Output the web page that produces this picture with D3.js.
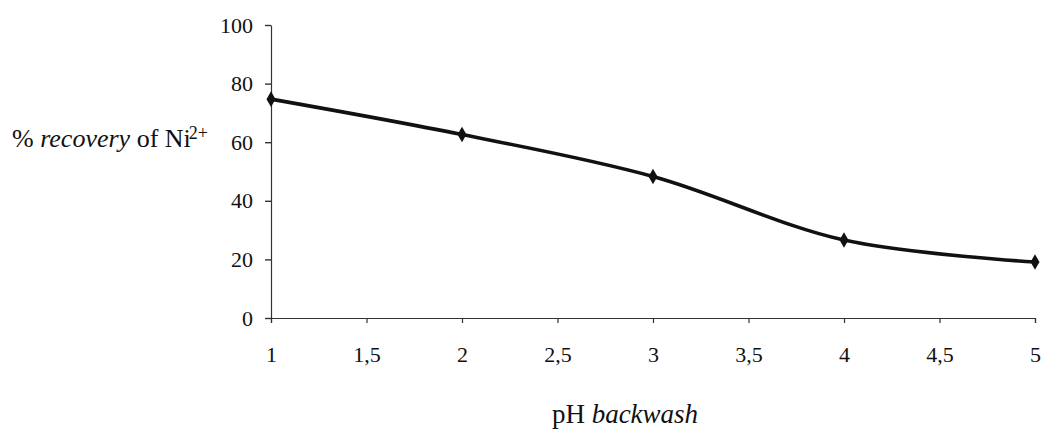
<!DOCTYPE html>
<html>
<head>
<meta charset="utf-8">
<script src="https://cdn.jsdelivr.net/npm/d3@7"></script>
<style>
  body { margin: 0; background: #fff; }
  text { font-family: "Liberation Serif", "Times New Roman", serif; fill: #111; }
</style>
</head>
<body>
<svg id="chart"></svg>
<script>
const svgWidth = 1042, svgHeight = 431;

// data
const phValues = [1, 2, 3, 4, 5];
const recovery = [74.7, 62.6, 48.3, 26.6, 19.1];
const xTicks = [1, 1.5, 2, 2.5, 3, 3.5, 4, 4.5, 5];
const yTicks = [0, 20, 40, 60, 80, 100];

const chart = d3.select("#chart")
    .attr("width", svgWidth)
    .attr("height", svgHeight);

const xScale = d3.scaleLinear().domain([1, 5]).range([271, 1035]);
const yScale = d3.scaleLinear().domain([0, 100]).range([318, 25]);

// x axis
const xAxis = d3.axisBottom(xScale)
    .tickValues(xTicks)
    .tickSize(5)
    .tickFormat(d => String(d).replace(".", ","));

const gx = chart.append("g")
    .attr("transform", "translate(0," + yScale(0) + ")")
    .call(xAxis);
gx.select(".domain").attr("stroke", "#333").attr("stroke-width", 1.2);
gx.selectAll(".tick line").attr("stroke", "#333").attr("stroke-width", 1.2);
gx.selectAll(".tick text")
    .attr("y", 28)
    .attr("font-size", 22)
    .attr("font-family", "Liberation Serif, serif");

// y axis
const yAxis = d3.axisLeft(yScale)
    .tickValues(yTicks)
    .tickSize(6)
    .tickSizeOuter(0);

const gy = chart.append("g")
    .attr("transform", "translate(" + xScale(1) + ",0)")
    .call(yAxis);
gy.select(".domain").attr("stroke", "#333").attr("stroke-width", 1.2);
gy.selectAll(".tick line").attr("stroke", "#333").attr("stroke-width", 1.4);
gy.selectAll(".tick text")
    .attr("x", -18)
    .attr("font-size", 22)
    .attr("font-family", "Liberation Serif, serif");

// axis titles
const yTitle = chart.append("text")
    .attr("x", 12)
    .attr("y", 147)
    .attr("font-size", 26);
yTitle.append("tspan").text("% ");
yTitle.append("tspan").attr("font-style", "italic").text("recovery");
yTitle.append("tspan").text(" of Ni");
yTitle.append("tspan").attr("font-size", 18).attr("dy", -8).attr("dx", -2).text("2+");

const xTitle = chart.append("text")
    .attr("x", 625)
    .attr("y", 423)
    .attr("text-anchor", "middle")
    .attr("font-size", 27);
xTitle.append("tspan").text("pH ");
xTitle.append("tspan").attr("font-style", "italic").text("backwash");

// line
const data = phValues.map((p, i) => ({ph: p, value: recovery[i]}));

const valueline = d3.line()
    .x(d => xScale(d.ph))
    .y(d => yScale(d.value))
    .curve(d3.curveCatmullRom);

chart.append("path")
    .datum(data)
    .attr("d", valueline)
    .attr("fill", "none")
    .attr("stroke", "#111")
    .attr("stroke-width", 3.6);

// diamond markers
chart.append("g").selectAll("path")
    .data(data)
    .enter()
    .append("path")
    .attr("transform", d => "translate(" + xScale(d.ph) + "," + yScale(d.value) + ")")
    .attr("d", d3.symbol().type(d3.symbolDiamond).size(70))
    .attr("fill", "#111");
</script>
</body>
</html>
